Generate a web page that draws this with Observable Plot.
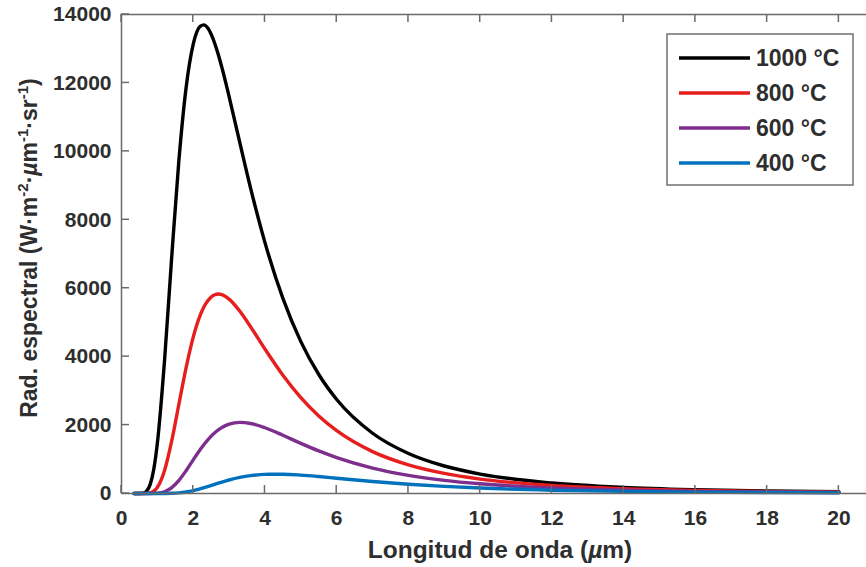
<!DOCTYPE html>
<html>
<head>
<meta charset="utf-8">
<script src="https://cdn.jsdelivr.net/npm/d3@7"></script>
<script src="https://cdn.jsdelivr.net/npm/@observablehq/plot@0.6"></script>
<style>
  html, body { margin: 0; padding: 0; background: #fff; }
  #chart svg { display: block; }
</style>
</head>
<body>
<div id="chart"></div>
<script>
// Wavelength (µm)
const wavelengths = [0.35, 0.4, 0.5, 0.6, 0.7, 0.8, 0.9, 1.0, 1.2, 1.4, 1.6, 1.8, 2.0, 2.2, 2.3, 2.4, 2.6, 2.7, 2.8, 3.0, 3.3, 3.6, 4.0, 4.5, 5, 5.5, 6, 7, 8, 9, 10, 12, 14, 16, 18, 20];
// Spectral radiance (W·m-2·µm-1·sr-1)
const rad1000 = [0, 0, 0.6, 10, 69, 267, 710, 1472, 3892, 6915, 9733, 11851, 13132, 13661, 13697, 13611, 13154, 12824, 12447, 11601, 10245, 8920, 7332, 5701, 4439, 3478, 2747, 1761, 1170, 804, 568, 306, 178, 111, 72, 49];
const rad800  = [0, 0, 0, 0.3, 3.4, 19, 68, 179, 673, 1536, 2608, 3673, 4571, 5226, 5457, 5629, 5809, 5829, 5811, 5681, 5326, 4871, 4221, 3456, 2801, 2265, 1836, 1224, 837, 587, 422, 233, 138, 87, 57, 39];
const rad600  = [0, 0, 0, 0, 0, 0.4, 2.3, 8.3, 52, 171, 383, 667, 983, 1292, 1433, 1562, 1776, 1860, 1930, 2026, 2079, 2047, 1922, 1702, 1466, 1245, 1050, 744, 531, 385, 284, 162, 99, 63, 42, 29];
const rad400  = [0, 0, 0, 0, 0, 0, 0, 0.06, 0.9, 5.2, 18, 44, 85, 140, 170, 203, 270, 303, 335, 395, 469, 521, 559, 563, 538, 496, 447, 351, 270, 207, 159, 97, 62, 41, 28, 20];

const seriesLabels = ["1000 °C", "800 °C", "600 °C", "400 °C"];
const seriesColors = ["#000000", "#e61e1e", "#7e2f8e", "#0072bd"];
const seriesValues = [rad1000, rad800, rad600, rad400];

const xTicks = [0, 2, 4, 6, 8, 10, 12, 14, 16, 18, 20];
const yTicks = [0, 2000, 4000, 6000, 8000, 10000, 12000, 14000];

const rows = seriesLabels.flatMap((lab, k) =>
  wavelengths.map((w, i) => ({w, r: seriesValues[k][i], s: lab})));

const axisColor = "#6a6a6a";
const textColor = "#2e2e2e";
const font = "'Liberation Sans', Arial, Helvetica, sans-serif";

const svgNode = Plot.plot({
  width: 866,
  height: 567,
  marginLeft: 121,
  marginRight: 0,
  marginTop: 14,
  marginBottom: 74,
  style: {fontFamily: font, fontWeight: "bold", background: "#fff", color: textColor},
  x: {domain: [0, 20.77]},
  y: {domain: [0, 14000]},
  color: {domain: seriesLabels, range: seriesColors},
  marks: [
    Plot.line(rows, {x: "w", y: "r", z: "s", stroke: "s", strokeWidth: 3.4, curve: "monotone-x"}),
    Plot.ruleY([0], {stroke: axisColor, strokeWidth: 1.5}),
    Plot.ruleY([14000], {stroke: axisColor, strokeWidth: 1.5}),
    Plot.ruleX([0], {stroke: axisColor, strokeWidth: 1.5}),
    Plot.axisX(xTicks, {anchor: "bottom", tickSize: 0, tickPadding: 17, fontSize: 21, fill: textColor, label: null, tickFormat: d3.format("d")}),
    Plot.axisY(yTicks, {anchor: "left", tickSize: 0, tickPadding: 10, fontSize: 21, fill: textColor, label: null, tickFormat: d3.format("d")})
  ]
});

document.getElementById("chart").appendChild(svgNode);
const svg = d3.select(svgNode);
const sx = svgNode.scale("x");
const sy = svgNode.scale("y");

// Inward tick marks (MATLAB style), positioned through the plot's scales
const tickLen = 8;
const tg = svg.append("g").attr("stroke", axisColor).attr("stroke-width", 1.5);
const yBottom = sy.apply(yTicks[0]);
const yTop = sy.apply(yTicks[yTicks.length - 1]);
const xLeft = sx.apply(xTicks[0]);
xTicks.forEach(v => {
  const px = sx.apply(v);
  tg.append("line").attr("x1", px).attr("x2", px).attr("y1", yBottom).attr("y2", yBottom - tickLen);
  tg.append("line").attr("x1", px).attr("x2", px).attr("y1", yTop).attr("y2", yTop + tickLen);
});
yTicks.forEach(v => {
  const py = sy.apply(v);
  tg.append("line").attr("x1", xLeft).attr("x2", xLeft + tickLen).attr("y1", py).attr("y2", py);
});

// X axis title
const xt = svg.append("text")
  .attr("x", 500).attr("y", 558)
  .attr("text-anchor", "middle")
  .attr("font-family", font).attr("font-weight", "bold").attr("font-size", 24.5)
  .attr("fill", textColor);
xt.append("tspan").text("Longitud de onda (");
xt.append("tspan").attr("font-style", "italic").text("µ");
xt.append("tspan").text("m)");

// Y axis title with superscripts
const yt = svg.append("text")
  .attr("transform", "translate(37,248) rotate(-90)")
  .attr("text-anchor", "middle")
  .attr("font-family", font).attr("font-weight", "bold").attr("font-size", 23)
  .attr("fill", textColor);
const parts = [
  ["Rad. espectral (W·m", 0, false],
  ["-2", 1, false],
  ["·", 0, false],
  ["µ", 0, true],
  ["m", 0, false],
  ["-1", 1, false],
  ["·sr", 0, false],
  ["-1", 1, false],
  [")", 0, false]
];
let raised = false;
parts.forEach(([t, sup, ital]) => {
  const ts = yt.append("tspan").text(t);
  if (sup && !raised) { ts.attr("dy", -9).attr("font-size", 15); raised = true; }
  else if (sup) { ts.attr("font-size", 15); }
  else if (!sup && raised) { ts.attr("dy", 9); raised = false; }
  if (ital) ts.attr("font-style", "italic");
});

// Legend
const lg = svg.append("g");
lg.append("rect")
  .attr("x", 667).attr("y", 34).attr("width", 186).attr("height", 151)
  .attr("fill", "#fff").attr("stroke", "#707070").attr("stroke-width", 1.5);
seriesLabels.forEach((lab, i) => {
  const y = 58 + i * 35;
  lg.append("line")
    .attr("x1", 679).attr("x2", 750).attr("y1", y).attr("y2", y)
    .attr("stroke", seriesColors[i]).attr("stroke-width", 3.4);
  lg.append("text")
    .attr("x", 756).attr("y", y).attr("dy", "0.36em")
    .attr("text-anchor", "start")
    .attr("font-family", font).attr("font-weight", "bold").attr("font-size", 23)
    .attr("fill", textColor).text(lab);
});
</script>
</body>
</html>
